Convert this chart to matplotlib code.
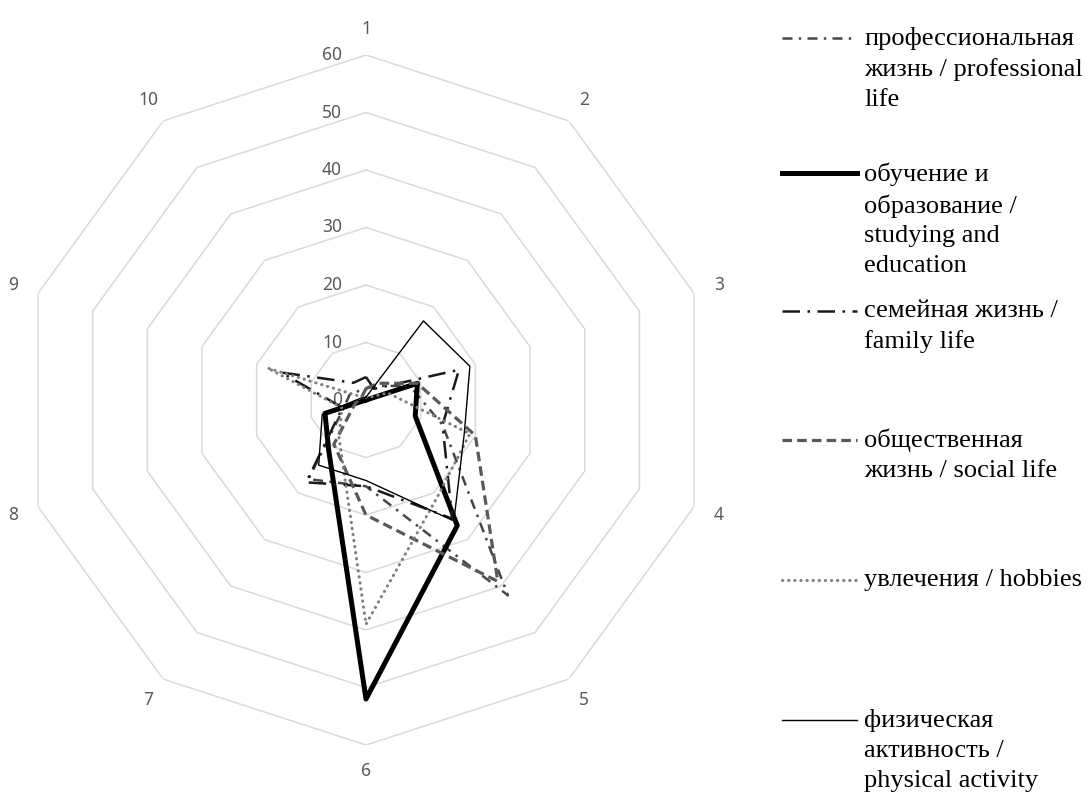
import numpy as np
import matplotlib
matplotlib.use("Agg")
import matplotlib.pyplot as plt
from matplotlib.lines import Line2D

# === données ===
axis_labels = [str(i) for i in range(1, 11)]
ring_values = [0, 10, 20, 30, 40, 50, 60]

professional = [2, 3, 8, 14, 42, 15, 17, 4, 3, 2]
education = [0, 0, 9.4, 9, 27, 52, 11, 7.5, 0, 0]
family = [4, 2.4, 17, 14, 25.5, 15, 17.7, 4.3, 15.5, 3.7]
social = [2, 3.6, 9.4, 20, 39, 20, 9.5, 2, 1, 1]
hobbies = [0.5, 0.5, 4, 19, 21, 39, 8, 4.4, 18, 0.5]
physical = [0.5, 17, 19, 18, 26, 14, 14, 8, 1, 0.5]

names = [
    "профессиональная\nжизнь / professional\nlife",
    "обучение и\nобразование /\nstudying and\neducation",
    "семейная жизнь /\nfamily life",
    "общественная\nжизнь / social life",
    "увлечения / hobbies",
    "физическая\nактивность /\nphysical activity",
]

# styles (couleur, épaisseur, tirets)
styles = [
    dict(color="#474747", lw=1.8, ls=(0, (4, 2.5, 1, 2.5))),
    dict(color="black", lw=3.6, ls="-"),
    dict(color="#1a1a1a", lw=1.8, ls=(0, (7, 3, 1, 3))),
    dict(color="#595959", lw=2.3, ls=(0, (3, 1.6))),
    dict(color="#7f7f7f", lw=2.2, ls=(0, (0.1, 1.9))),
    dict(color="black", lw=1.0, ls="-"),
]
legend_y = [38, 173, 311, 440, 580, 720]   # pixels depuis le haut

W, H = 1087, 792
CX, CY, R = 366, 400, 345

fig = plt.figure(figsize=(W / 100, H / 100), dpi=100)
ax = fig.add_axes([(CX - R) / W, (H - CY - R) / H, 2 * R / W, 2 * R / H],
                  projection="polar")
ax.set_theta_zero_location("N")
ax.set_theta_direction(-1)
ax.set_ylim(0, 60)
ax.set_axis_off()

n = len(axis_labels)
theta = np.arange(n) * 2 * np.pi / n
theta_c = np.append(theta, theta[0])

# grille polygonale
for r in ring_values[1:]:
    ax.plot(theta_c, [r] * (n + 1), color="#d9d9d9", lw=1.1, zorder=1)

for r in ring_values:
    ax.annotate(str(r), xy=(0, r), xytext=(-24, 0), textcoords="offset pixels",
                ha="right", va="center", fontsize=12.5, color="#595959",
                family="Noto Sans", annotation_clip=False)

for t, lab in zip(theta, axis_labels):
    ax.text(t, 64.5, lab, ha="center", va="center", fontsize=12.5,
            color="#595959", family="Noto Sans", clip_on=False)

data = [professional, education, family, social, hobbies, physical]
for vals, st in zip(data, styles):
    v = np.append(vals, vals[0])
    line, = ax.plot(theta_c, v, color=st["color"], lw=st["lw"],
                    linestyle=st["ls"], zorder=3, clip_on=False)
    line.set_dash_capstyle("round" if st is styles[4] else "butt")

# légende à droite
for name, st, y in zip(names, styles, legend_y):
    yf = 1 - y / H
    h = Line2D([782 / W, 857 / W], [yf, yf], transform=fig.transFigure,
               color=st["color"], lw=st["lw"], linestyle=st["ls"])
    if st is styles[4]:
        h.set_dash_capstyle("round")
    fig.add_artist(h)
    fig.text(864 / W, 1 - (y - 11) / H, name, ha="left", va="top",
             fontsize=19, family="Liberation Serif", linespacing=1.46,
             color="black")

plt.savefig("out.png", dpi=100)
